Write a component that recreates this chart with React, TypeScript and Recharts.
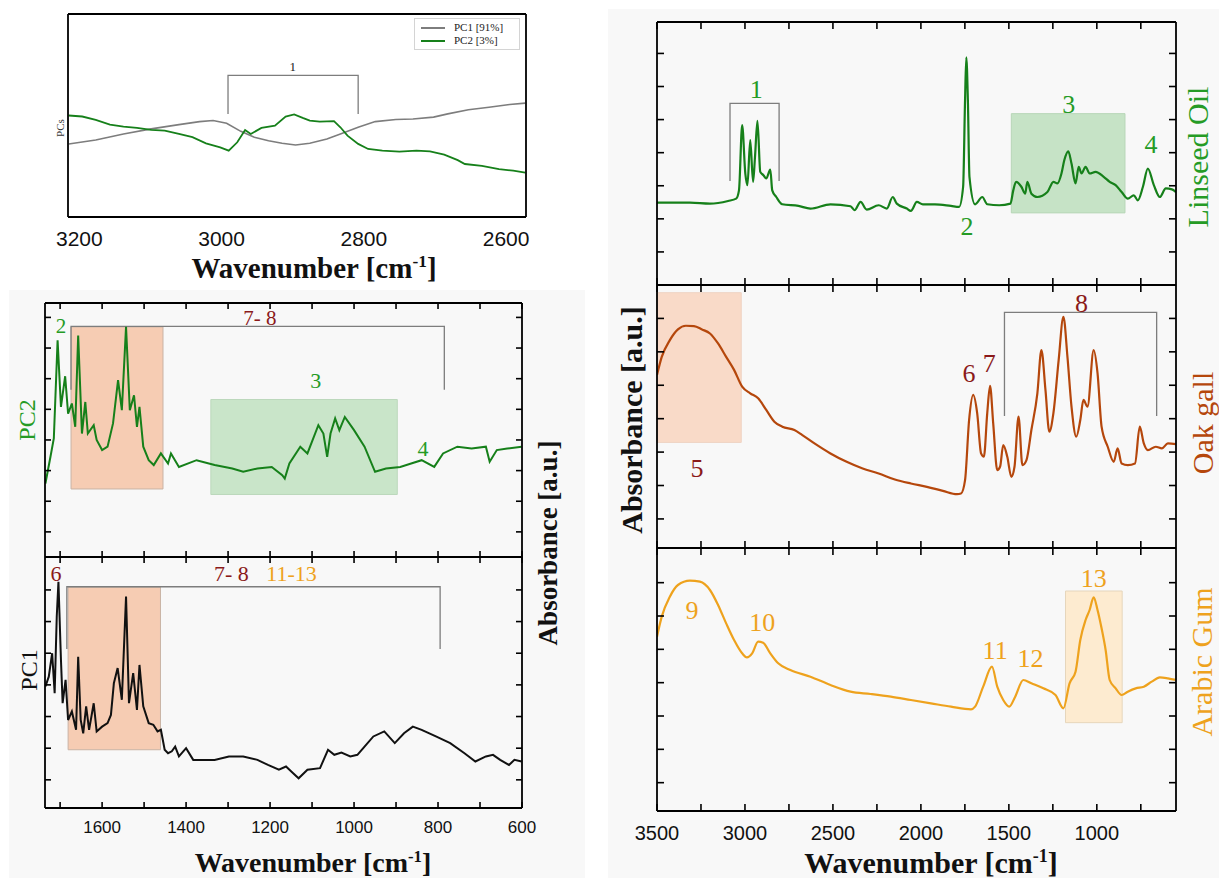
import React from "react";
import { LineChart, Line, XAxis, YAxis, ReferenceArea, ReferenceDot, Legend } from "recharts";

const SANS = '"Liberation Sans", Arial, sans-serif';
const SERIF = '"Liberation Serif", "DejaVu Serif", serif';

const GREEN = "#16801a";
const GREEN_TXT = "#259b25";
const DARKRED = "#8b1a1a";
const BROWN = "#b5470c";
const ORANGE = "#eea21d";
const GRAY = "#7d7d7d";
const BG = "#f8f8f8";

// ---- top-left: PC loadings, 3200-2600 cm-1
const tlPc1Wn = [3215, 3177, 3138, 3099, 3060, 3031, 3012, 2993, 2973, 2954, 2934, 2915, 2896, 2876, 2852, 2833, 2808, 2784, 2755, 2731, 2702, 2682, 2653, 2624, 2595, 2573];
const tlPc1 = [3.6, 3.79, 4.09, 4.34, 4.55, 4.7, 4.75, 4.62, 4.22, 3.93, 3.76, 3.63, 3.55, 3.63, 3.84, 4.09, 4.42, 4.7, 4.8, 4.83, 4.92, 5.08, 5.28, 5.41, 5.54, 5.61];
const tlPc2Wn = [3215, 3196, 3177, 3157, 3138, 3119, 3099, 3080, 3060, 3041, 3022, 3002, 2990, 2978, 2967, 2959, 2944, 2925, 2910, 2898, 2886, 2876, 2862, 2842, 2833, 2823, 2808, 2794, 2774, 2750, 2726, 2707, 2687, 2668, 2658, 2634, 2610, 2590, 2573];
const tlPc2 = [5.0, 4.95, 4.78, 4.55, 4.45, 4.39, 4.29, 4.26, 4.09, 3.93, 3.63, 3.43, 3.27, 3.68, 4.29, 4.09, 4.39, 4.5, 4.95, 5.05, 4.88, 4.75, 4.7, 4.72, 4.42, 4.01, 3.6, 3.35, 3.27, 3.22, 3.27, 3.23, 3.07, 2.8, 2.61, 2.52, 2.36, 2.28, 2.19];
const tlTicks = [3200, 3000, 2800, 2600];

// ---- left: PC2 / PC1 loadings, 1736-600 cm-1
const pc2Wn = [1735, 1723, 1715, 1706, 1698, 1688, 1681, 1672, 1664, 1657, 1648, 1640, 1634, 1620, 1613, 1600, 1587, 1574, 1562, 1553, 1543, 1534, 1524, 1517, 1511, 1502, 1489, 1477, 1460, 1443, 1436, 1417, 1375, 1332, 1290, 1264, 1230, 1196, 1171, 1165, 1154, 1128, 1111, 1085, 1073, 1064, 1056, 1045, 1035, 1022, 1000, 975, 950, 924, 890, 864, 839, 809, 788, 754, 720, 686, 677, 660, 635, 601];
const pc2Val = [1.58, 2.45, 3.05, 6.25, 4.08, 5.08, 3.86, 4.19, 3.43, 6.41, 3.21, 4.24, 3.21, 3.48, 3.0, 2.67, 2.78, 3.54, 4.95, 3.97, 6.69, 3.97, 4.46, 3.43, 4.08, 2.78, 2.34, 2.18, 2.56, 2.23, 2.56, 2.12, 2.34, 2.18, 2.07, 1.96, 2.07, 2.12, 1.85, 1.74, 2.23, 2.78, 2.56, 3.48, 3.21, 2.45, 3.21, 3.7, 3.32, 3.75, 3.32, 2.78, 1.96, 2.07, 2.12, 2.23, 2.34, 2.12, 2.56, 2.78, 2.72, 2.78, 2.29, 2.67, 2.72, 2.78];
const pc1Wn = [1735, 1727, 1719, 1713, 1708, 1704, 1698, 1694, 1687, 1681, 1672, 1662, 1657, 1651, 1645, 1638, 1631, 1620, 1613, 1600, 1587, 1579, 1572, 1563, 1553, 1543, 1536, 1526, 1517, 1511, 1502, 1489, 1478, 1468, 1460, 1451, 1443, 1434, 1426, 1417, 1400, 1383, 1349, 1332, 1298, 1264, 1230, 1205, 1179, 1162, 1145, 1132, 1111, 1081, 1062, 1047, 1030, 1009, 992, 975, 954, 928, 903, 881, 860, 839, 805, 771, 737, 711, 686, 669, 652, 631, 618, 601];
const pc1Val = [2.95, 3.26, 4.0, 2.74, 5.16, 6.26, 3.79, 2.42, 3.16, 1.89, 2.16, 1.58, 3.89, 1.89, 1.47, 2.32, 1.58, 2.42, 1.53, 1.68, 1.79, 2.05, 3.05, 3.53, 2.53, 5.79, 2.42, 3.37, 2.21, 3.63, 2.32, 1.79, 1.74, 1.53, 1.58, 0.95, 0.84, 0.9, 1.05, 0.74, 1.0, 0.63, 0.63, 0.63, 0.74, 0.74, 0.63, 0.47, 0.32, 0.42, 0.21, 0.05, 0.32, 0.37, 0.95, 0.79, 0.86, 0.74, 0.79, 1.05, 1.37, 1.53, 1.16, 1.47, 1.68, 1.58, 1.37, 1.16, 0.84, 0.58, 0.74, 0.79, 0.63, 0.47, 0.63, 0.58];
const pcTicks = [1700, 1600, 1500, 1400, 1300, 1200, 1100, 1000, 900, 800, 700, 600];

// ---- right: reference spectra, 3500-550 cm-1
const linseedWn = [3500, 3313, 3199, 3096, 3050, 3034, 3016, 2998, 2986, 2970, 2954, 2943, 2929, 2913, 2895, 2879, 2856, 2845, 2822, 2788, 2696, 2628, 2514, 2400, 2377, 2343, 2308, 2240, 2194, 2160, 2137, 2080, 2057, 2023, 1989, 1920, 1829, 1783, 1760, 1749, 1742, 1733, 1724, 1692, 1651, 1623, 1555, 1491, 1475, 1459, 1429, 1407, 1395, 1372, 1338, 1281, 1247, 1224, 1201, 1185, 1162, 1144, 1121, 1103, 1087, 1064, 1041, 1007, 961, 927, 893, 859, 824, 790, 767, 738, 710, 676, 642, 608, 573, 550];
const linseedVal = [2.49, 2.49, 2.46, 2.54, 2.61, 2.86, 4.83, 3.37, 3.02, 4.38, 3.12, 3.87, 4.96, 3.42, 3.32, 3.22, 3.49, 2.86, 2.66, 2.44, 2.39, 2.31, 2.44, 2.38, 2.26, 2.51, 2.28, 2.41, 2.31, 2.66, 2.46, 2.31, 2.24, 2.51, 2.44, 2.44, 2.39, 2.36, 2.97, 5.59, 6.88, 5.59, 3.27, 2.44, 2.66, 2.44, 2.41, 2.46, 2.86, 3.12, 2.97, 2.76, 3.12, 2.76, 2.66, 2.81, 3.12, 3.07, 3.37, 3.77, 4.04, 3.67, 3.07, 3.57, 3.37, 3.57, 3.37, 3.42, 3.27, 3.12, 3.02, 2.81, 2.61, 2.71, 2.56, 2.97, 3.52, 3.02, 2.66, 2.92, 2.89, 2.81];
const oakWn = [3500, 3473, 3427, 3381, 3336, 3290, 3244, 3199, 3153, 3107, 3062, 3016, 2970, 2925, 2879, 2833, 2788, 2719, 2674, 2605, 2514, 2422, 2331, 2240, 2148, 2057, 1966, 1875, 1795, 1772, 1749, 1726, 1703, 1680, 1658, 1642, 1623, 1607, 1589, 1566, 1550, 1532, 1509, 1486, 1468, 1445, 1423, 1400, 1372, 1338, 1315, 1292, 1270, 1247, 1217, 1190, 1167, 1144, 1117, 1094, 1076, 1053, 1018, 996, 973, 938, 904, 882, 859, 824, 783, 756, 733, 710, 665, 630, 596, 550];
const oakVal = [5.31, 5.85, 6.35, 6.67, 6.78, 6.77, 6.67, 6.55, 6.25, 5.85, 5.46, 4.96, 4.76, 4.61, 4.26, 3.91, 3.76, 3.66, 3.51, 3.26, 2.96, 2.71, 2.51, 2.36, 2.18, 2.06, 1.96, 1.84, 1.74, 1.76, 2.16, 3.96, 4.71, 4.16, 2.96, 2.86, 4.16, 4.98, 3.86, 2.46, 2.56, 3.21, 2.86, 2.26, 2.56, 4.06, 2.61, 2.76, 3.66, 4.76, 6.05, 4.86, 3.61, 4.16, 5.75, 7.05, 5.85, 4.36, 3.46, 3.96, 4.56, 4.36, 6.05, 5.36, 3.76, 3.16, 2.71, 3.11, 2.66, 2.61, 2.66, 3.76, 3.26, 3.06, 3.16, 3.11, 3.26, 3.24];
const gumWn = [3500, 3473, 3427, 3381, 3313, 3256, 3199, 3153, 3107, 3062, 3016, 2989, 2959, 2925, 2897, 2856, 2811, 2742, 2628, 2514, 2400, 2286, 2171, 2057, 1943, 1829, 1715, 1692, 1646, 1596, 1566, 1532, 1498, 1464, 1418, 1372, 1304, 1235, 1190, 1155, 1121, 1094, 1064, 1041, 1018, 996, 973, 950, 927, 893, 859, 824, 779, 733, 688, 642, 596, 550];
const gumVal = [5.38, 5.98, 6.58, 6.93, 7.06, 7.03, 6.78, 6.33, 5.78, 5.28, 4.88, 4.76, 4.88, 5.23, 5.2, 4.88, 4.58, 4.38, 4.18, 3.93, 3.73, 3.66, 3.58, 3.48, 3.38, 3.28, 3.2, 3.28, 3.88, 4.48, 3.88, 3.48, 3.28, 3.58, 4.08, 3.98, 3.83, 3.63, 3.23, 3.98, 4.33, 5.28, 5.88, 6.18, 6.56, 6.18, 5.63, 4.98, 4.08, 3.83, 3.63, 3.73, 3.83, 3.88, 4.03, 4.16, 4.13, 4.08];
const rightTicks = [3500, 3250, 3000, 2750, 2500, 2250, 2000, 1750, 1500, 1250, 1000, 750];
const rightYTicks = [1, 2, 3, 4, 5, 6, 7];

type Pt = { x: number; y: number };
const zip = (xs: number[], ys: number[]): Pt[] => xs.map((x, i) => ({ x, y: ys[i] }));
// bracket: [from, to, top, foot]
const bracketPts = (b: number[]): Pt[] => [
  { x: b[0], y: b[3] }, { x: b[0], y: b[2] }, { x: b[1], y: b[2] }, { x: b[1], y: b[3] },
];

const tlBracket = [2991, 2808, 6.98, 5.08];
const pc2Bracket = [1674, 785, 6.71, 4.64];
const pc1Bracket = [1684, 795, 6.1, 4.13];
const linseedBracket = [3085, 2806, 5.49, 3.14];
const oakBracket = [1525, 660, 7.18, 4.08];

function AxisTick(props: any) {
  const { x, y, payload, side, len, every, fontSize, gap } = props;
  const v = payload?.value;
  const dx = side === "left" ? len : side === "right" ? -len : 0;
  const dy = side === "bottom" ? -len : side === "top" ? len : 0;
  const showLabel = side === "bottom" && every && Math.abs(v % every) < 1e-6;
  return (
    <g>
      {len > 0 && <line x1={x} y1={y} x2={x + dx} y2={y + dy} stroke="#000" strokeWidth={1.6} />}
      {showLabel && (
        <text x={x} y={y + gap} textAnchor="middle" fontSize={fontSize} fontFamily={SANS} fill="#111">
          {v}
        </text>
      )}
    </g>
  );
}

interface FrameOpts {
  xDomain: [number, number];
  yDomain: [number, number];
  xTicks: number[];
  yTicks: number[];
  len: number;
  every?: number;
  fontSize?: number;
  gap?: number;
  lw?: number;
}

// the axes are 1px thick so that recharts draws them; Panel takes that pixel off the margins
function frameAxes(o: FrameOpts) {
  const common = {
    type: "number" as const,
    allowDataOverflow: true,
    tickLine: false,
    tickSize: 0,
    tickMargin: 0,
    interval: 0 as const,
    axisLine: { stroke: "#000", strokeWidth: o.lw ?? 1.8 },
  };
  const noTicks = o.len === 0;
  return [
    <XAxis key="xb" xAxisId={0} dataKey="x" orientation="bottom" height={1} domain={o.xDomain} reversed ticks={o.xTicks}
      tick={<AxisTick side="bottom" len={o.len} every={o.every} fontSize={o.fontSize} gap={o.gap} />} {...common} />,
    <XAxis key="xt" xAxisId="t" dataKey="x" orientation="top" height={1} domain={o.xDomain} reversed ticks={o.xTicks}
      tick={noTicks ? false : <AxisTick side="top" len={o.len} />} {...common} />,
    <YAxis key="yl" yAxisId={0} orientation="left" width={1} domain={o.yDomain} ticks={o.yTicks.length ? o.yTicks : [o.yDomain[0]]}
      tick={noTicks ? false : <AxisTick side="left" len={o.len} />} {...common} />,
    <YAxis key="yr" yAxisId="r" orientation="right" width={1} domain={o.yDomain} ticks={o.yTicks.length ? o.yTicks : [o.yDomain[0]]}
      tick={noTicks ? false : <AxisTick side="right" len={o.len} />} {...common} />,
  ];
}

const note = (key: string, x: number, y: number, text: string, color: string, size: number) => (
  <ReferenceDot key={key} x={x} y={y} r={0} fill="none" stroke="none" ifOverflow="visible"
    label={{ value: text, position: "center", fill: color, fontSize: size, fontFamily: SERIF }} />
);

const box = (key: string, x1: number, x2: number, y1: number, y2: number, fill: string, stroke: string) => (
  <ReferenceArea key={key} x1={x1} x2={x2} y1={y1} y2={y2} fill={fill} fillOpacity={1} stroke={stroke} strokeWidth={1} ifOverflow="visible" />
);

const bracketLine = (key: string, b: number[]) => (
  <Line key={key} data={bracketPts(b)} dataKey="y" stroke={GRAY} strokeWidth={1.3} dot={false} activeDot={false}
    legendType="none" isAnimationActive={false} type="linear" />
);

type Rect = { x: number; y: number; w: number; h: number };
type Margin = { top: number; right: number; bottom: number; left: number };

function Panel({ plot, margin, children }: { plot: Rect; margin: Margin; children: React.ReactNode }) {
  const inner = { top: margin.top - 1, right: margin.right - 1, bottom: margin.bottom - 1, left: margin.left - 1 };
  return (
    <div style={{ position: "absolute", left: plot.x - margin.left, top: plot.y - margin.top }}>
      <LineChart width={plot.w + margin.left + margin.right} height={plot.h + margin.top + margin.bottom} margin={inner}>
        {children}
      </LineChart>
    </div>
  );
}

function VText({ x, y, size, color, bold, children }: { x: number; y: number; size: number; color: string; bold?: boolean; children: React.ReactNode }) {
  return (
    <div style={{
      position: "absolute", left: x, top: y, transform: "translate(-50%, -50%) rotate(-90deg)",
      whiteSpace: "nowrap", fontSize: size, color, fontWeight: bold ? 700 : 400, fontFamily: SERIF, lineHeight: 1,
    }}>{children}</div>
  );
}

function Title({ x, y, size }: { x: number; y: number; size: number }) {
  return (
    <div style={{
      position: "absolute", left: x, top: y, transform: "translate(-50%, -50%)", whiteSpace: "nowrap",
      fontSize: size, fontWeight: 700, fontFamily: SERIF, color: "#111", lineHeight: 1,
    }}>
      Wavenumber [cm<span style={{ fontSize: "0.6em", verticalAlign: "super", lineHeight: 0 }}>-1</span>]
    </div>
  );
}

const legendContent = (props: any) => (
  <div style={{ border: "1px solid #d4d4d4", background: "#fff", padding: "2px 6px", fontFamily: SERIF, fontSize: 11, lineHeight: "13px" }}>
    {(props.payload || []).filter((p: any) => p.type !== "none" && p.value !== "y").map((p: any) => (
      <div key={p.value} style={{ display: "flex", alignItems: "center" }}>
        <span style={{ display: "inline-block", width: 24, borderTop: `2px solid ${p.color}`, marginRight: 9 }} />
        <span style={{ color: "#222" }}>{p.value}</span>
      </div>
    ))}
  </div>
);

export default function App() {
  const tlPlot = { x: 68, y: 14, w: 458, h: 203 };
  const tlMargin = { top: 10, right: 30, bottom: 45, left: 50 };
  const pcMarginTop = { top: 30, right: 30, bottom: 10, left: 40 };
  const pcMarginBot = { top: 25, right: 30, bottom: 40, left: 40 };
  const rMargin = { top: 15, right: 30, bottom: 10, left: 40 };
  const rMarginBot = { top: 15, right: 30, bottom: 45, left: 40 };
  const pcX: [number, number] = [600, 1736];
  const rX: [number, number] = [550, 3500];

  return (
    <div style={{ position: "absolute", left: 0, top: 0, width: 1219, height: 878, background: "#fff", overflow: "hidden", fontFamily: SERIF }}>
      <div style={{ position: "absolute", left: 9, top: 290, width: 576, height: 588, background: BG }} />
      <div style={{ position: "absolute", left: 608, top: 9, width: 611, height: 869, background: BG }} />

      {/* top-left PCs */}
      <Panel plot={tlPlot} margin={tlMargin}>
        {frameAxes({ xDomain: [2572, 3216], yDomain: [0, 10], xTicks: tlTicks, yTicks: [], len: 0, every: 200, fontSize: 21, gap: 29, lw: 1.8 })}
        {bracketLine("b1", tlBracket)}
        <Line data={zip(tlPc1Wn, tlPc1)} dataKey="y" name="PC1 [91%]" stroke={GRAY} strokeWidth={1.6} dot={false} isAnimationActive={false} type="linear" />
        <Line data={zip(tlPc2Wn, tlPc2)} dataKey="y" name="PC2 [3%]" stroke={GREEN} strokeWidth={1.8} dot={false} isAnimationActive={false} type="linear" />
        {note("n1", 2900, 7.44, "1", "#222", 13)}
        <Legend layout="vertical" align="center" verticalAlign="middle" content={legendContent}
          wrapperStyle={{ left: 414 - 18, top: 18 - 4, width: 106, height: 30 }} />
      </Panel>
      <VText x={60} y={128} size={11} color="#333">PCs</VText>
      <Title x={314} y={268} size={29} />

      {/* PC2 */}
      <Panel plot={{ x: 45, y: 303, w: 477, h: 254 }} margin={pcMarginTop}>
        {frameAxes({ xDomain: pcX, yDomain: [-0.82, 7.47], xTicks: pcTicks, yTicks: [0, 1, 2, 3, 4, 5, 6, 7], len: 6 })}
        {box("o2", 1674, 1455, 6.69, 1.4, "#f6ccb3", "#c9b3a5")}
        {box("g2", 1341, 897, 4.32, 1.22, "#c9e5c9", "#bcd8bc")}
        {bracketLine("b2", pc2Bracket)}
        <Line data={zip(pc2Wn, pc2Val)} dataKey="y" stroke={GREEN} strokeWidth={2} dot={false} isAnimationActive={false} type="linear" />
        {note("p2a", 1698, 6.74, "2", GREEN_TXT, 21)}
        {note("p2b", 1224, 7.01, "7- 8", DARKRED, 21)}
        {note("p2c", 1091, 4.95, "3", GREEN_TXT, 22)}
        {note("p2d", 836, 2.72, "4", GREEN_TXT, 22)}
      </Panel>

      {/* PC1 */}
      <Panel plot={{ x: 45, y: 557, w: 477, h: 251 }} margin={pcMarginBot}>
        {frameAxes({ xDomain: pcX, yDomain: [-0.89, 7.04], xTicks: pcTicks, yTicks: [0, 1, 2, 3, 4, 5, 6], len: 6, every: 200, fontSize: 17, gap: 25 })}
        {box("o1", 1681, 1461, 6.09, 0.95, "#f6ccb3", "#c9b3a5")}
        {bracketLine("b3", pc1Bracket)}
        <Line data={zip(pc1Wn, pc1Val)} dataKey="y" stroke="#111" strokeWidth={2} dot={false} isAnimationActive={false} type="linear" />
        {note("p1a", 1710, 6.54, "6", DARKRED, 22)}
        {note("p1b", 1292, 6.52, "7- 8", DARKRED, 22)}
        {note("p1c", 1149, 6.52, "11-13", ORANGE, 22)}
      </Panel>
      <VText x={27} y={420} size={24} color={GREEN_TXT}>PC2</VText>
      <VText x={29} y={670} size={24} color="#111">PC1</VText>
      <VText x={548} y={543} size={27} color="#111" bold>Absorbance [a.u.]</VText>
      <Title x={313} y={863} size={28} />

      {/* Linseed oil */}
      <Panel plot={{ x: 657, y: 22, w: 519, h: 263 }} margin={rMargin}>
        {frameAxes({ xDomain: rX, yDomain: [0, 7.95], xTicks: rightTicks, yTicks: rightYTicks, len: 7 })}
        {box("gl", 1486, 840, 5.18, 2.18, "#c6e3c6", "#b7d6b7")}
        {bracketLine("b4", linseedBracket)}
        <Line data={zip(linseedWn, linseedVal)} dataKey="y" stroke={GREEN} strokeWidth={2.2} dot={false} isAnimationActive={false} type="monotone" />
        {note("l1", 2936, 5.94, "1", GREEN_TXT, 26)}
        {note("l2", 1738, 1.78, "2", GREEN_TXT, 26)}
        {note("l3", 1160, 5.49, "3", GREEN_TXT, 26)}
        {note("l4", 692, 4.26, "4", GREEN_TXT, 26)}
      </Panel>

      {/* Oak gall */}
      <Panel plot={{ x: 657, y: 285, w: 519, h: 263 }} margin={rMargin}>
        {frameAxes({ xDomain: rX, yDomain: [0.13, 8.0], xTicks: rightTicks, yTicks: rightYTicks, len: 7 })}
        {box("oo", 3500, 3021, 7.77, 3.29, "#f9dac8", "#eed3c3")}
        {bracketLine("b5", oakBracket)}
        <Line data={zip(oakWn, oakVal)} dataKey="y" stroke={BROWN} strokeWidth={2.2} dot={false} isAnimationActive={false} type="monotone" />
        {note("o5", 3272, 2.54, "5", DARKRED, 26)}
        {note("o6", 1726, 5.36, "6", DARKRED, 26)}
        {note("o7", 1612, 5.66, "7", DARKRED, 26)}
        {note("o8", 1087, 7.47, "8", DARKRED, 26)}
      </Panel>

      {/* Arabic gum */}
      <Panel plot={{ x: 657, y: 548, w: 519, h: 263 }} margin={rMarginBot}>
        {frameAxes({ xDomain: rX, yDomain: [0.15, 8.04], xTicks: rightTicks, yTicks: rightYTicks, len: 7, every: 500, fontSize: 20, gap: 29 })}
        {box("ya", 1178, 856, 6.75, 2.8, "#fdebd0", "#e6d6bc")}
        <Line data={zip(gumWn, gumVal)} dataKey="y" stroke={ORANGE} strokeWidth={2.2} dot={false} isAnimationActive={false} type="monotone" />
        {note("a9", 3301, 6.18, "9", ORANGE, 26)}
        {note("a10", 2902, 5.83, "10", ORANGE, 26)}
        {note("a11", 1578, 4.98, "11", ORANGE, 26)}
        {note("a12", 1377, 4.76, "12", ORANGE, 26)}
        {note("a13", 1018, 7.16, "13", ORANGE, 26)}
      </Panel>
      <VText x={632} y={420} size={30} color="#111" bold>Absorbance [a.u.]</VText>
      <VText x={1198} y={157} size={30} color={GREEN_TXT}>Linseed Oil</VText>
      <VText x={1203} y={423} size={30} color={BROWN}>Oak gall</VText>
      <VText x={1202} y={662} size={30} color={ORANGE}>Arabic Gum</VText>
      <Title x={931} y={863} size={30} />
    </div>
  );
}
